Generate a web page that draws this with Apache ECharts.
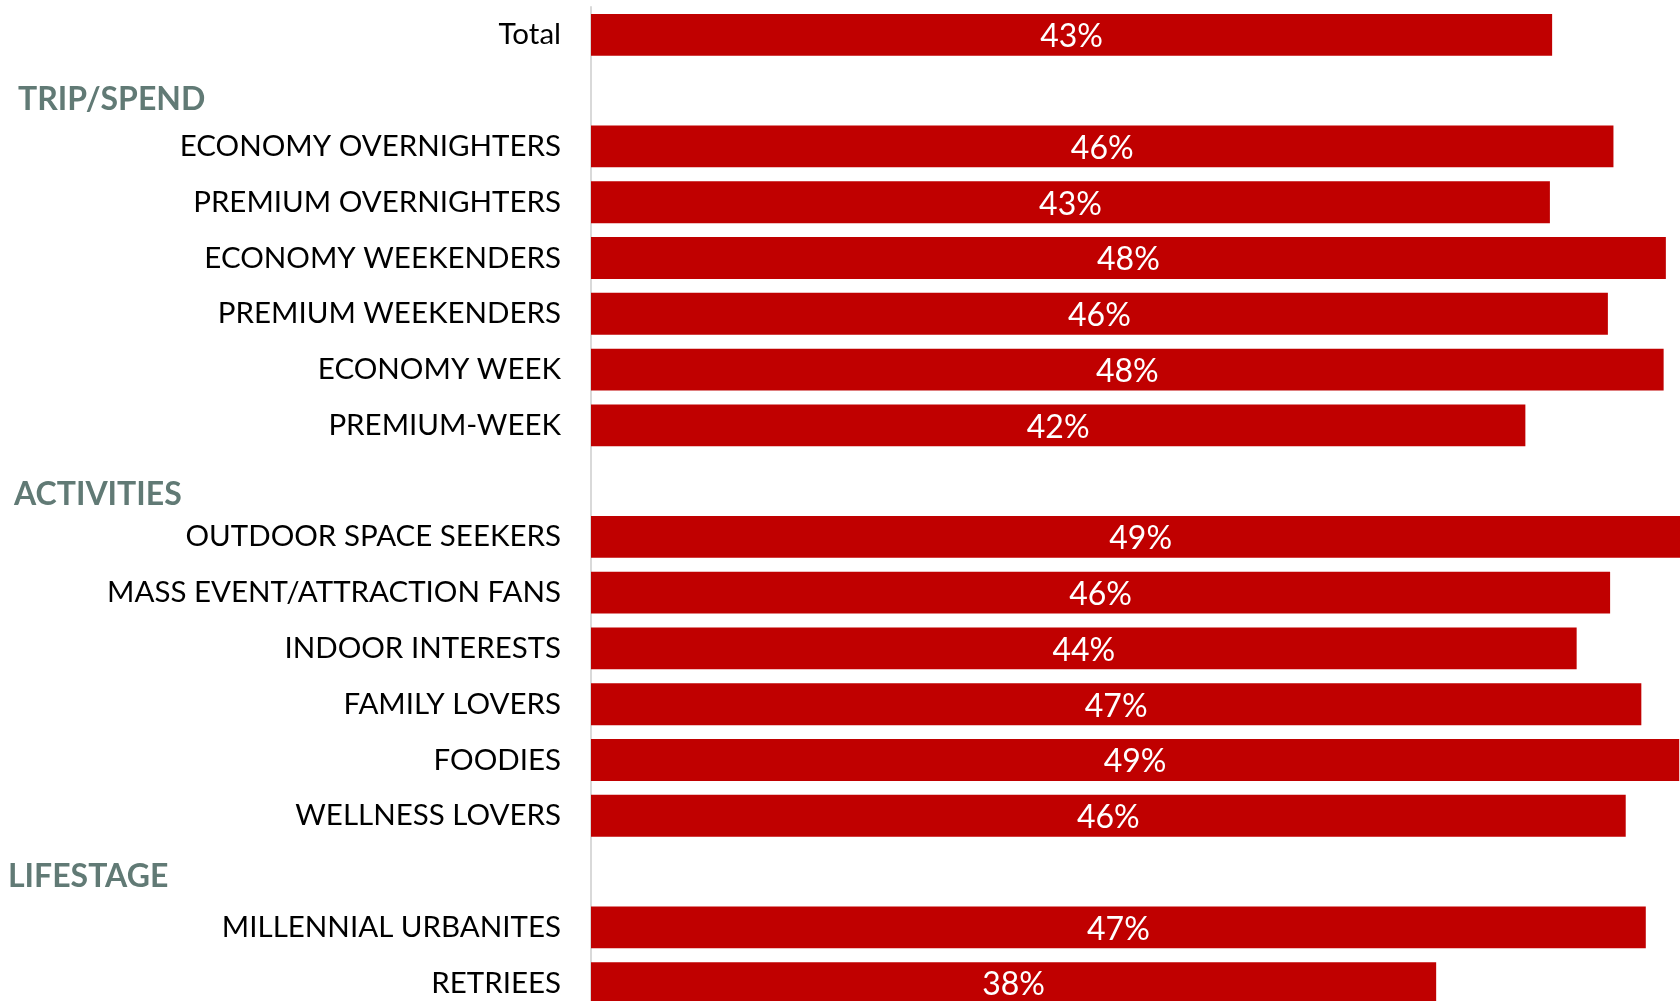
<!DOCTYPE html>
<html>
<head>
<meta charset="utf-8">
<script src="https://cdn.jsdelivr.net/npm/echarts@6/dist/echarts.min.js"></script>
<style>
  html, body { margin: 0; padding: 0; background: #fff; }
  #chart { width: 1680px; height: 1001px; }
</style>
</head>
<body>
<div id="chart"></div>
<script>
// rows top to bottom, '' rows are the section header slots
var categories = [
    'Total',
    '',
    'ECONOMY OVERNIGHTERS',
    'PREMIUM OVERNIGHTERS',
    'ECONOMY WEEKENDERS',
    'PREMIUM WEEKENDERS',
    'ECONOMY WEEK',
    'PREMIUM-WEEK',
    '',
    'OUTDOOR SPACE SEEKERS',
    'MASS EVENT/ATTRACTION FANS',
    'INDOOR INTERESTS',
    'FAMILY LOVERS',
    'FOODIES',
    'WELLNESS LOVERS',
    '',
    'MILLENNIAL URBANITES',
    'RETRIEES'
];
var values = [43.1, null, 45.85, 43.0, 48.2, 45.6, 48.1, 41.9, null,
              49.3, 45.7, 44.2, 47.1, 48.8, 46.4, null, 47.3, 37.9];
var sections = ['TRIP/SPEND', 'ACTIVITIES', 'LIFESTAGE'];
var sectionRows = [1, 8, 15];

var chart = echarts.init(document.getElementById('chart'));

var option = {
    animation: false,
    grid: {
        left: 591,
        top: 7,
        width: 1115,
        height: 1004,
        outerBoundsMode: 'none'
    },
    xAxis: {
        type: 'value',
        min: 0,
        max: 50,
        show: false
    },
    yAxis: {
        type: 'category',
        inverse: true,
        data: categories,
        axisTick: { show: false },
        axisLine: { lineStyle: { color: '#d9d9d9', width: 2 } },
        axisLabel: {
            margin: 30,
            color: '#000',
            fontFamily: 'Lato',
            fontSize: 29.5
        }
    },
    series: [{
        type: 'bar',
        data: values,
        barWidth: '75%',
        itemStyle: { color: '#c00000' },
        label: {
            show: true,
            position: 'inside',
            offset: [0, 2],
            color: '#fff',
            fontFamily: 'Lato',
            fontSize: 32,
            formatter: function (p) {
                return Math.round(p.value) + '%';
            }
        }
    }]
};
chart.setOption(option);

// section headers sit in the empty rows, left aligned
var headerX = [18, 14, 8];
var headerDy = [9, 14, 5];
var graphics = [];
for (var i = 0; i < sections.length; i++) {
    var y = chart.convertToPixel({ yAxisIndex: 0 }, sectionRows[i]);
    graphics.push({
        type: 'text',
        x: headerX[i],
        y: y + headerDy[i],
        style: {
            text: sections[i],
            fill: '#617a75',
            font: 'bold 32px Lato',
            align: 'left',
            verticalAlign: 'middle'
        }
    });
}
chart.setOption({ graphic: graphics });
</script>
</body>
</html>
